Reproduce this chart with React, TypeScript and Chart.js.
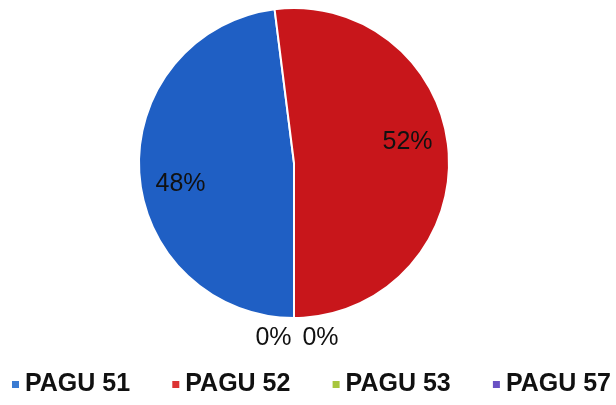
import React, { useEffect, useRef } from "react";
import { Chart, registerables } from "chart.js";

Chart.register(...registerables);

const categories = ["PAGU 51", "PAGU 52", "PAGU 53", "PAGU 57"];
const shares = [48, 52, 0, 0];
const sliceColors = ["#1f5fc4", "#c8161b", "#9bbb3b", "#6b4fbb"];
const legendColors = ["#3a7bd2", "#dc3434", "#a8c63e", "#6a52c4"];

const labelPlugin = {
  id: "pctLabels",
  afterDatasetsDraw(chart: any) {
    const ctx = chart.ctx;
    const meta = chart.getDatasetMeta(0);
    const data = chart.data.datasets[0].data as number[];
    const total = data.reduce((a, b) => a + b, 0);
    ctx.save();
    ctx.fillStyle = "#111";
    ctx.font = "25px 'Liberation Sans', Arial, sans-serif";
    ctx.textAlign = "center";
    ctx.textBaseline = "middle";
    const zeros: any[] = [];
    meta.data.forEach((arc: any, i: number) => {
      const p = arc.getProps(["x", "y", "startAngle", "endAngle", "outerRadius"], true);
      const pct = Math.round((data[i] / total) * 100) + "%";
      if (data[i] > 0) {
        const mid = (p.startAngle + p.endAngle) / 2 - (7 * Math.PI) / 180;
        const r = p.outerRadius * 0.745;
        ctx.fillText(pct, p.x + Math.cos(mid) * r, p.y + Math.sin(mid) * r);
      } else {
        zeros.push({ p, pct });
      }
    });
    zeros.forEach((z, k) => {
      const a = z.p.endAngle;
      const r = z.p.outerRadius + 20;
      const off = (k - (zeros.length - 1) / 2) * 47 + 3;
      ctx.fillText(z.pct, z.p.x + Math.cos(a) * r + off, z.p.y + Math.sin(a) * r);
    });
    ctx.restore();
  },
};

const legendPlugin = {
  id: "bottomLegend",
  afterDraw(chart: any) {
    const ctx = chart.ctx;
    ctx.save();
    ctx.font = "bold 25px 'Liberation Sans', Arial, sans-serif";
    ctx.textBaseline = "middle";
    ctx.textAlign = "left";
    categories.forEach((name, i) => {
      const x0 = 12 + i * 160.3;
      ctx.fillStyle = legendColors[i];
      ctx.fillRect(x0, 381, 7, 7);
      ctx.fillStyle = "#111";
      ctx.fillText(name, x0 + 13, 384);
    });
    ctx.restore();
  },
};

export default function App() {
  const ref = useRef<HTMLCanvasElement | null>(null);
  useEffect(() => {
    document.body.style.margin = "0";
    const chart = new Chart(ref.current as HTMLCanvasElement, {
      type: "pie",
      data: {
        labels: categories,
        datasets: [
          {
            data: shares,
            backgroundColor: sliceColors,
            borderColor: "#ffffff",
            borderWidth: 2,
          },
        ],
      },
      options: {
        animation: false,
        responsive: false,
        devicePixelRatio: 1,
        rotation: 180,
        radius: 155,
        layout: { padding: { top: 8, bottom: 87, left: 138, right: 166 } },
        plugins: {
          legend: { display: false },
          tooltip: { enabled: false },
        },
      },
      plugins: [labelPlugin, legendPlugin],
    } as any);
    return () => chart.destroy();
  }, []);
  return (
    <div style={{ width: 616, height: 405, background: "#ffffff" }}>
      <canvas ref={ref} width={616} height={405} />
    </div>
  );
}
